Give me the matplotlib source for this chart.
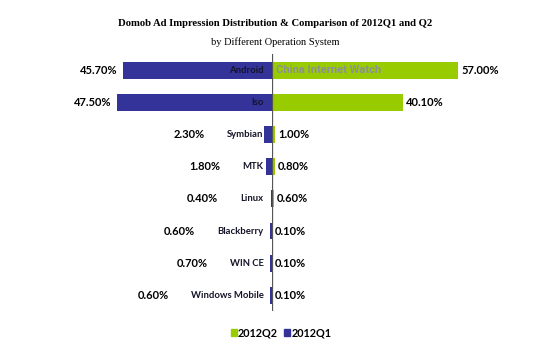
import matplotlib
matplotlib.use('Agg')
import matplotlib.pyplot as plt
from matplotlib.patches import Patch

# data (percent of ad impressions)
systems = ['Android', 'Iso', 'Symbian', 'MTK', 'Linux', 'Blackberry', 'WIN CE', 'Windows Mobile']
q1 = [45.7, 47.5, 2.3, 1.8, 0.4, 0.6, 0.7, 0.6]
q2 = [57.0, 40.1, 1.0, 0.8, 0.6, 0.1, 0.1, 0.1]

blue = '#333399'
green = '#99cc00'
sans = 'Lato'

fig = plt.figure(figsize=(5.5, 3.58), dpi=100)
bottom, height = 0.13, 0.719
ax_l = fig.add_axes([0.0, bottom, 0.4945, height])
ax_r = fig.add_axes([0.4945, bottom, 0.5055, height], sharey=ax_l)

rows = list(range(len(systems)))
ax_l.barh(rows, q1, height=0.52, color=blue)
ax_r.barh(rows, q2, height=0.52, color=green)

ax_l.set_xlim(83.2, 0)
ax_r.set_xlim(0, 85.0)
ax_l.set_ylim(len(systems) - 0.5, -0.5)

for ax in (ax_l, ax_r):
    ax.axis('off')
ax_r.axvline(0, color='#555555', lw=0.9)

# left side: category name next to the axis, Q1 value outside
for i, (name, v) in enumerate(zip(systems, q1)):
    cat = ax_l.annotate(name, xy=(0, i), xytext=(-6, 0), textcoords='offset points',
                        ha='right', va='center', fontsize=6.8, fontweight='bold',
                        family=sans, color='#141428')
    if v > 10:
        ax_l.annotate(f'{v:.2f}%', xy=(v, i), xytext=(-4, 0), textcoords='offset points',
                      ha='right', va='center', fontsize=8, fontweight='bold', family=sans)
    else:
        ax_l.annotate(f'{v:.2f}%', xy=(0, 0.5), xycoords=cat, xytext=(-16, 0),
                      textcoords='offset points', ha='right', va='center',
                      fontsize=8, fontweight='bold', family=sans)

# right side: Q2 value after the bar
for i, v in enumerate(q2):
    ax_r.annotate(f'{v:.2f}%', xy=(v, i), xytext=(2, 0), textcoords='offset points',
                  ha='left', va='center', fontsize=8, fontweight='bold', family=sans)

# watermark on the Android bar
ax_r.annotate('China Internet Watch', xy=(0, 0), xytext=(3, 0), textcoords='offset points',
              ha='left', va='center', fontsize=8, fontweight='bold', family='Roboto',
              color='#8a8aa4', alpha=0.9)

fig.text(0.5, 1 - 24 / 358, 'Domob Ad Impression Distribution & Comparison of 2012Q1 and Q2',
         ha='center', va='center', fontsize=7.7, fontweight='bold', family='Liberation Serif')
fig.text(0.5, 1 - 42 / 358, 'by Different Operation System',
         ha='center', va='center', fontsize=7.5, family='Liberation Serif')

handles = [Patch(color=green, label='2012Q2'), Patch(color=blue, label='2012Q1')]
fig.legend(handles=handles, loc='center', bbox_to_anchor=(0.511, 1 - 333 / 358), ncol=2,
           frameon=False, handlelength=0.55, handleheight=0.55, handletextpad=0.1,
           columnspacing=0.6, prop={'family': sans, 'weight': 'bold', 'size': 7.8})

fig.savefig('out.png', dpi=100)
